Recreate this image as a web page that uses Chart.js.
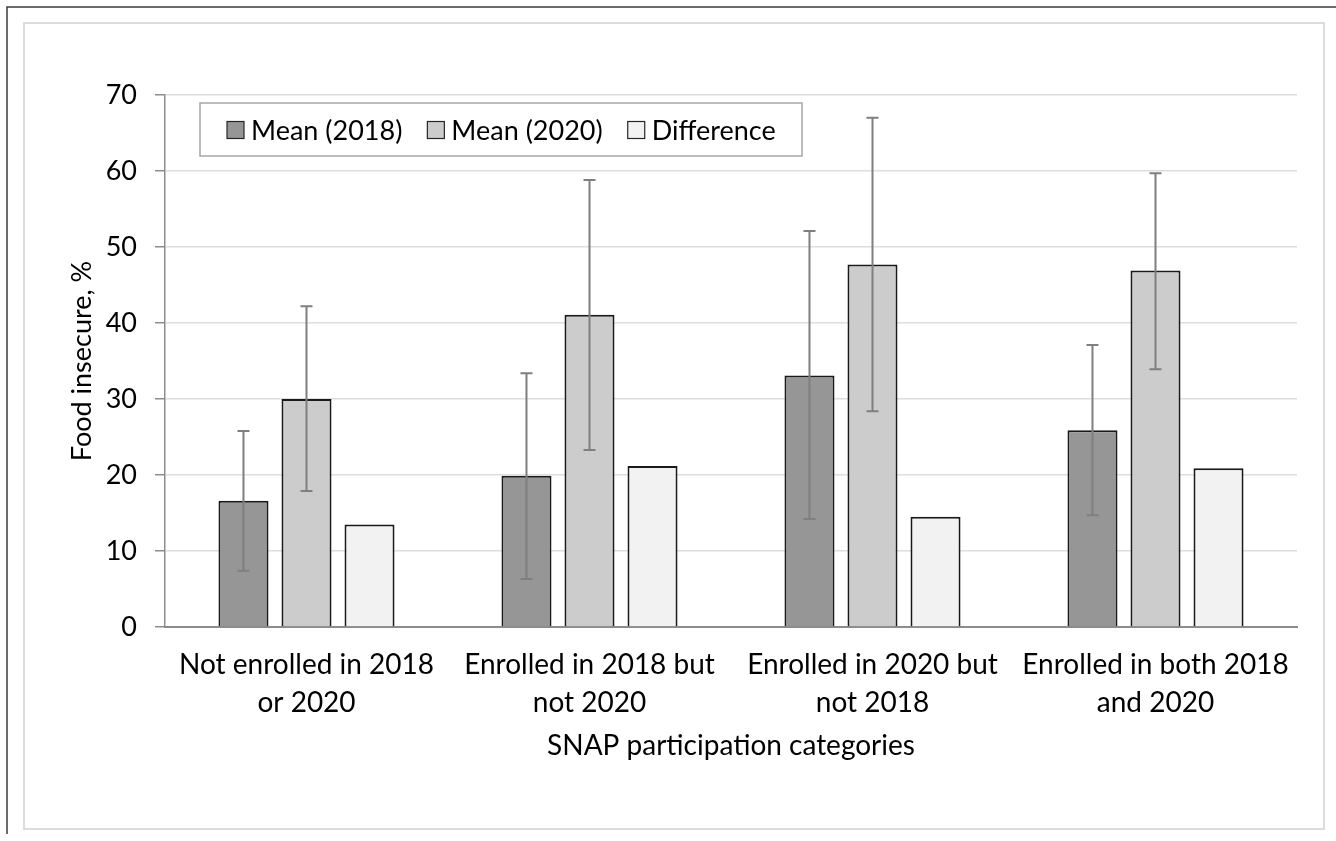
<!DOCTYPE html>
<html>
<head>
<meta charset="utf-8">
<title>Food insecurity by SNAP participation</title>
<script src="https://cdn.jsdelivr.net/npm/chart.js@4.4.1/dist/chart.umd.min.js"></script>
<style>
  html, body { margin: 0; padding: 0; background: #ffffff; }
  #wrap { width: 1336px; height: 841px; }
</style>
</head>
<body>
<div id="wrap"><canvas id="chart" width="1336" height="841"></canvas></div>
<script>
// Categories (multi-line x labels)
const categories = [
  ['Not enrolled in 2018', 'or 2020'],
  ['Enrolled in 2018 but', 'not 2020'],
  ['Enrolled in 2020 but', 'not 2018'],
  ['Enrolled in both 2018', 'and 2020']
];
const seriesNames = ['Mean (2018)', 'Mean (2020)', 'Difference'];

// Percent food insecure
const mean2018 = [16.6, 19.9, 33.1, 25.9];
const mean2020 = [30.0, 41.1, 47.7, 46.9];
const difference = [13.5, 21.2, 14.5, 20.9];

// 95% confidence limits for the two means
const lower2018 = [7.4, 6.3, 14.2, 14.7];
const upper2018 = [25.8, 33.4, 52.1, 37.1];
const lower2020 = [17.9, 23.3, 28.4, 33.9];
const upper2020 = [42.2, 58.8, 67.0, 59.7];

const yTicks = [0, 10, 20, 30, 40, 50, 60, 70];

const FONT = 'Lato, "Open Sans", Arial, sans-serif';
const fills = ['#969696', '#cccccc', '#f2f2f2'];

// Page frame: outer dark edge and light inner border
const framePlugin = {
  id: 'frame',
  beforeDraw(chart) {
    const ctx = chart.ctx;
    ctx.save();
    ctx.fillStyle = '#ffffff';
    ctx.fillRect(0, 0, chart.width, chart.height);
    ctx.strokeStyle = '#3a3a3a';
    ctx.lineWidth = 1.5;
    ctx.beginPath();
    ctx.moveTo(7, 834);
    ctx.lineTo(7, 7);
    ctx.lineTo(chart.width, 7);
    ctx.stroke();
    ctx.strokeStyle = '#dcdcdc';
    ctx.lineWidth = 2;
    ctx.strokeRect(24, 23, 1300, 806);
    ctx.restore();
  }
};

// Confidence-interval whiskers on the two mean series
const errorBarPlugin = {
  id: 'errorBars',
  afterDatasetsDraw(chart) {
    const ctx = chart.ctx;
    const y = chart.scales.y;
    const limits = [[lower2018, upper2018], [lower2020, upper2020]];
    ctx.save();
    ctx.strokeStyle = '#7f7f7f';
    ctx.lineWidth = 2;
    limits.forEach((pair, di) => {
      const meta = chart.getDatasetMeta(di);
      meta.data.forEach((bar, i) => {
        const x = bar.x;
        const yl = y.getPixelForValue(pair[0][i]);
        const yh = y.getPixelForValue(pair[1][i]);
        ctx.beginPath();
        ctx.moveTo(x, yl); ctx.lineTo(x, yh);
        ctx.moveTo(x - 6, yl); ctx.lineTo(x + 6, yl);
        ctx.moveTo(x - 6, yh); ctx.lineTo(x + 6, yh);
        ctx.stroke();
      });
    });
    ctx.restore();
  }
};

// Boxed legend in the upper-left of the plot
const boxLegendPlugin = {
  id: 'boxLegend',
  afterDraw(chart) {
    const ctx = chart.ctx;
    ctx.save();
    ctx.fillStyle = '#ffffff';
    ctx.fillRect(200, 103, 602, 53);
    ctx.strokeStyle = '#a6a6a6';
    ctx.lineWidth = 1.5;
    ctx.strokeRect(200, 103, 602, 53);
    ctx.font = '27px ' + FONT;
    ctx.textBaseline = 'middle';
    let x = 227;
    const cy = 130;
    chart.data.datasets.forEach((ds) => {
      ctx.fillStyle = ds.backgroundColor;
      ctx.fillRect(x, cy - 8.5, 17, 17);
      ctx.strokeStyle = '#262626';
      ctx.lineWidth = 1.2;
      ctx.strokeRect(x, cy - 8.5, 17, 17);
      ctx.fillStyle = '#000000';
      ctx.fillText(ds.label, x + 24, cy + 1);
      x += 24 + ctx.measureText(ds.label).width + 25;
    });
    ctx.restore();
  }
};

new Chart(document.getElementById('chart'), {
  type: 'bar',
  data: {
    labels: categories,
    datasets: [
      { label: seriesNames[0], data: mean2018, backgroundColor: fills[0] },
      { label: seriesNames[1], data: mean2020, backgroundColor: fills[1] },
      { label: seriesNames[2], data: difference, backgroundColor: fills[2] }
    ]
  },
  options: {
    responsive: false,
    animation: false,
    layout: { padding: { left: 24, top: 95, right: 39, bottom: 24 } },
    datasets: {
      bar: {
        borderColor: '#1a1a1a',
        borderWidth: 2,
        categoryPercentage: 0.668,
        barPercentage: 0.794
      }
    },
    plugins: {
      legend: { display: false },
      tooltip: { enabled: false }
    },
    scales: {
      x: {
        grid: { display: false, drawTicks: false },
        border: { color: '#8c8c8c', width: 2 },
        ticks: {
          color: '#000000',
          padding: 19,
          maxRotation: 0,
          autoSkip: false,
          font: { family: FONT, size: 28, lineHeight: 1.36 }
        },
        title: {
          display: true,
          text: 'SNAP participation categories',
          color: '#000000',
          font: { family: FONT, size: 28, lineHeight: 1.2 },
          padding: { top: 0, bottom: 54 }
        },
        afterFit(scale) { scale.height = 190; }
      },
      y: {
        min: 0,
        max: 70,
        afterBuildTicks(scale) { scale.ticks = yTicks.map(v => ({ value: v })); },
        grid: {
          color: '#dedede',
          lineWidth: 1.5,
          tickColor: '#8c8c8c',
          tickLength: 10,
          drawTicks: true
        },
        border: { color: '#8c8c8c', width: 1.5 },
        ticks: {
          color: '#000000',
          padding: 18,
          font: { family: FONT, size: 27 }
        },
        title: {
          display: true,
          text: 'Food insecure, %',
          color: '#000000',
          font: { family: FONT, size: 27, lineHeight: 1.2 },
          padding: { top: 42, bottom: 0 }
        },
        afterFit(scale) { scale.width = 141; }
      }
    }
  },
  plugins: [framePlugin, errorBarPlugin, boxLegendPlugin]
});
</script>
</body>
</html>
